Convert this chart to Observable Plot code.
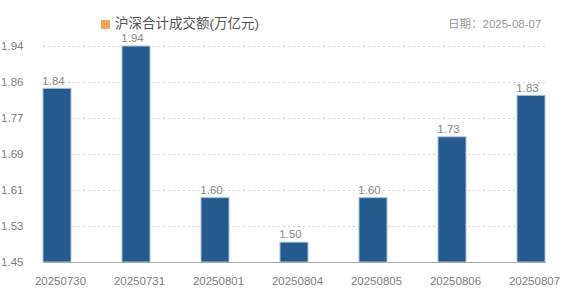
<!DOCTYPE html>
<html>
<head>
<meta charset="utf-8">
<script src="https://cdn.jsdelivr.net/npm/d3@7"></script>
<script src="https://cdn.jsdelivr.net/npm/@observablehq/plot@0.6"></script>
<style>
  html, body { margin: 0; padding: 0; background: #fff; }
  #wrap { width: 562px; height: 302px; position: relative; font-family: "Liberation Sans", Arial, "Noto Sans CJK SC", sans-serif; }
  #legend { position: absolute; left: 101px; top: 17px; font-size: 13.5px; line-height: 14px; color: #555; display: flex; align-items: center; z-index: 2; }
  #legend .sw { width: 9px; height: 9px; background: #f7a35c; margin-right: 5px; }
  #date { position: absolute; left: 448px; top: 18px; font-size: 11.5px; line-height: 12px; color: #999; z-index: 2; }
  #chart { position: absolute; left: 0; top: 0; }
</style>
</head>
<body>
<div id="wrap">
  <div id="chart"></div>
  <div id="legend"><span class="sw"></span><span id="legendText"></span></div>
  <div id="date"></div>
</div>
<script>
const dates = ["20250730", "20250731", "20250801", "20250804", "20250805", "20250806", "20250807"];
const turnover = [1.844, 1.94, 1.596, 1.495, 1.596, 1.734, 1.828];
const yTickLabels = ["1.45", "1.53", "1.61", "1.69", "1.77", "1.86", "1.94"];
const seriesName = "沪深合计成交额(万亿元)";
const dateText = "日期：2025-08-07";

document.getElementById("legendText").textContent = seriesName;
document.getElementById("date").textContent = dateText;

const yMin = 1.45, yMax = 1.94;
const yTicks = yTickLabels.map((_, i) => yMin + i * (yMax - yMin) / (yTickLabels.length - 1));
const data = dates.map((d, i) => ({date: d, value: turnover[i]}));

const chart = Plot.plot({
  width: 562,
  height: 302,
  marginTop: 46,
  marginBottom: 40,
  marginLeft: 43,
  marginRight: 16,
  style: {fontFamily: "'Liberation Sans', Arial, sans-serif", fontSize: "11.5px", color: "#808080", background: "#fff"},
  x: {type: "band", domain: dates, paddingInner: 0.64, paddingOuter: 0, label: null},
  y: {domain: [yMin, yMax], label: null},
  marks: [
    Plot.gridY(yTicks.slice(1), {stroke: "#d0d0d0", strokeOpacity: 1, strokeDasharray: "2,3"}),
    Plot.barY(data, {x: "date", y1: yMin, y2: "value", fill: "#255a8e", stroke: "#a6c2de", strokeWidth: 1}),
    Plot.text(data, {x: "date", y: "value", text: d => d3.format(".2f")(d.value), dy: -8, dx: -4, lineAnchor: "middle", fill: "#888", fontSize: 11.5}),
    Plot.ruleY([yMin], {stroke: "#aaa"}),
    Plot.axisY(yTicks, {tickSize: 0, tickPadding: 20, tickFormat: (d, i) => yTickLabels[i], fill: "#808080", label: null, line: true, stroke: "#999"}),
    Plot.axisX({tickSize: 0, tickPadding: 14, dx: 3, fill: "#808080", label: null})
  ]
});
document.getElementById("chart").appendChild(chart);
</script>
</body>
</html>
